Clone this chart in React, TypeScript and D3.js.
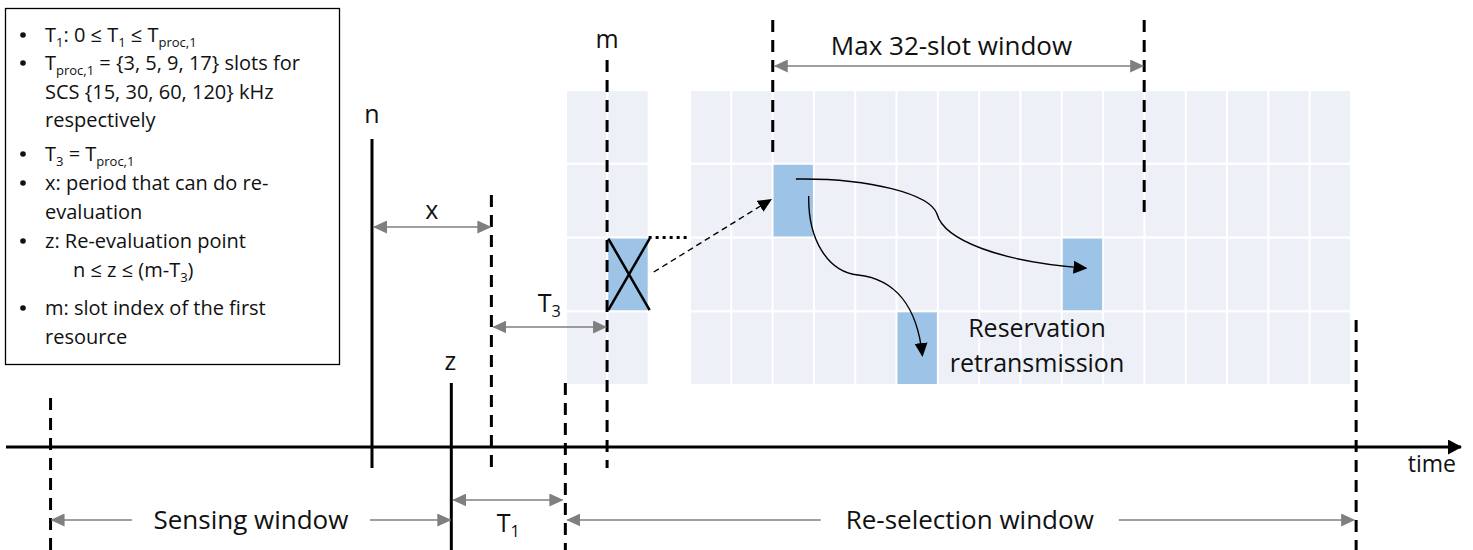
import * as d3 from 'd3';

// time positions in slot units (slot 0 = first slot of the resource grid)
const markerNames = ['sensingStart', 'n', 'z', 'zT3', 'reselStart', 'm', 'maxStart', 'maxEnd', 'reselEnd'];
const markerSlots = [-12.5, -4.72, -2.8, -1.83, -0.04, 0.97, 4.98, 13.97, 19.1];

// resource grid
const gridColumns = [0, 1, 3, 4, 5, 6, 7, 8, 9, 10, 11, 12, 13, 14, 15, 16, 17, 18];
const gridRows = [0, 1, 2, 3];
const usedCols = [1, 5, 8, 12];
const usedRows = [2, 1, 3, 2];
const usedCrossed = [true, false, false, false];

type Seg = { t: string; sub?: boolean };
const legendLines: Seg[][] = [
  [{ t: 'T' }, { t: '1', sub: true }, { t: ': 0 ≤ T' }, { t: '1', sub: true }, { t: ' ≤ T' }, { t: 'proc,1', sub: true }],
  [{ t: 'T' }, { t: 'proc,1', sub: true }, { t: ' = {3, 5, 9, 17} slots for' }],
  [{ t: 'SCS {15, 30, 60, 120} kHz' }],
  [{ t: 'respectively' }],
  [{ t: 'T' }, { t: '3', sub: true }, { t: ' = T' }, { t: 'proc,1', sub: true }],
  [{ t: 'x: period that can do re-' }],
  [{ t: 'evaluation' }],
  [{ t: 'z: Re-evaluation point' }],
  [{ t: 'n ≤ z ≤ (m-T' }, { t: '3', sub: true }, { t: ')' }],
  [{ t: 'm: slot index of the first' }],
  [{ t: 'resource' }],
];
const legendBullets = [true, true, false, false, true, true, false, true, false, true, false];
const legendIndent = [0, 0, 0, 0, 0, 0, 0, 0, 28, 0, 0];
const legendBaselines = [42, 70, 99, 127, 161, 190, 219, 248, 277, 315, 344];

// vertical extent + style of each marker line
const markerLayout: Record<string, [number, number, 'solid' | 'dash']> = {
  sensingStart: [398, 550, 'dash'],
  n: [139, 468, 'solid'],
  z: [383, 550, 'solid'],
  zT3: [195, 468, 'dash'],
  reselStart: [383, 550, 'dash'],
  m: [60, 468, 'dash'],
  maxStart: [20, 160, 'dash'],
  maxEnd: [20, 220, 'dash'],
  reselEnd: [320, 550, 'dash'],
};

const FONT = "'Open Sans', 'Noto Sans', sans-serif";
const GRAY = '#7f7f7f';
const CELL = '#edf0f7';
const FILL = '#9dc3e6';

function Sub({ segs }: { segs: Seg[] }) {
  let inSub = false;
  return (
    <>
      {segs.map((s, i) => {
        const sub = !!s.sub;
        const dy = sub && !inSub ? 5 : !sub && inSub ? -5 : 0;
        inSub = sub;
        return (
          <tspan key={i} dy={dy} fontSize={sub ? '0.65em' : undefined}>
            {s.t}
          </tspan>
        );
      })}
    </>
  );
}

export default function App() {
  const x = d3.scaleLinear().domain([0, 19]).range([567, 1352]);
  const y = d3.scaleBand<number>().domain(gridRows).range([91, 384]).paddingInner(0.03);
  const mx = (name: string) => x(markerSlots[markerNames.indexOf(name)]);
  const slotW = x(1) - x(0);
  const axisY = 447;

  const span = (a: number, b: number, yy: number, heads: 'both' | 'start' | 'end') => (
    <line
      x1={a}
      x2={b}
      y1={yy}
      y2={yy}
      stroke={GRAY}
      strokeWidth={1.6}
      markerStart={heads !== 'end' ? 'url(#gl)' : undefined}
      markerEnd={heads !== 'start' ? 'url(#gr)' : undefined}
    />
  );

  const sensMid = (mx('sensingStart') + mx('z')) / 2;
  const reselMid = (mx('reselStart') + mx('reselEnd')) / 2 + 9;

  return (
    <svg width={1473} height={550} style={{ position: 'absolute', left: 0, top: 0 }} fontFamily={FONT}>
      <defs>
        <marker id="gr" viewBox="0 0 14 13" refX={13} refY={6.5} markerWidth={14} markerHeight={13} markerUnits="userSpaceOnUse" orient="auto">
          <path d="M0,0 L14,6.5 L0,13 Z" fill={GRAY} />
        </marker>
        <marker id="gl" viewBox="0 0 14 13" refX={1} refY={6.5} markerWidth={14} markerHeight={13} markerUnits="userSpaceOnUse" orient="auto">
          <path d="M14,0 L0,6.5 L14,13 Z" fill={GRAY} />
        </marker>
        <marker id="bk" viewBox="0 0 14 13" refX={12} refY={6.5} markerWidth={14} markerHeight={13} markerUnits="userSpaceOnUse" orient="auto">
          <path d="M0,0 L14,6.5 L0,13 Z" fill="#000" />
        </marker>
        <marker id="ax" viewBox="0 0 14 15" refX={13} refY={7.5} markerWidth={14} markerHeight={15} markerUnits="userSpaceOnUse" orient="auto">
          <path d="M0,0 L14,7.5 L0,15 Z" fill="#000" />
        </marker>
      </defs>

      {/* legend box */}
      <rect x={5.5} y={8.5} width={334} height={356} fill="#fff" stroke="#000" strokeWidth={1.3} />
      <g fontSize={20} fill="#111">
        {legendLines.map((segs, i) => (
          <g key={i}>
            {legendBullets[i] && <circle cx={23} cy={legendBaselines[i] - 7} r={2.8} fill="#111" />}
            <text x={45 + legendIndent[i]} y={legendBaselines[i]}>
              <Sub segs={segs} />
            </text>
          </g>
        ))}
      </g>

      {/* resource grid */}
      <g>
        {gridRows.map((r) =>
          gridColumns.map((c) => (
            <rect key={`${r}-${c}`} x={x(c)} y={y(r)} width={slotW - 2} height={y.bandwidth()} fill={CELL} />
          )),
        )}
        {usedCols.map((c, i) => (
          <rect key={i} x={x(c)} y={y(usedRows[i])} width={slotW - 2} height={y.bandwidth()} fill={FILL} />
        ))}
        {usedCols.map((c, i) =>
          usedCrossed[i] ? (
            <g key={i} stroke="#000" strokeWidth={2.5}>
              <line x1={x(c)} y1={y(usedRows[i])!} x2={x(c + 1)} y2={y(usedRows[i])! + y.bandwidth()} />
              <line x1={x(c + 1)} y1={y(usedRows[i])!} x2={x(c)} y2={y(usedRows[i])! + y.bandwidth()} />
            </g>
          ) : null,
        )}
      </g>

      {/* dotted continuation and dashed move arrow */}
      <line x1={x(2) - 1} x2={x(2.9)} y1={y(2)! - 1} y2={y(2)! - 1} stroke="#000" strokeWidth={3} strokeDasharray="3 4" />
      <line x1={x(2.1)} y1={272} x2={x(4.92)} y2={200} stroke="#000" strokeWidth={1.4} strokeDasharray="6 4" markerEnd="url(#bk)" />

      {/* reservation curves */}
      <path
        d={`M${x(5.54)},179 C870,178 930,194 937,214 C944,240 1000,262 ${x(12.55)},268`}
        fill="none"
        stroke="#000"
        strokeWidth={1.4}
        markerEnd="url(#bk)"
      />
      <path
        d={`M${x(5.85)},196 C808,240 828,272 858,275 C894,279 917,305 ${x(8.6)},355`}
        fill="none"
        stroke="#000"
        strokeWidth={1.4}
        markerEnd="url(#bk)"
      />
      <text x={1037} y={337} fontSize={25} textAnchor="middle" fill="#111">
        Reservation
      </text>
      <text x={1037} y={372} fontSize={25} textAnchor="middle" fill="#111">
        retransmission
      </text>

      {/* time axis */}
      <line x1={6} x2={1461} y1={axisY} y2={axisY} stroke="#000" strokeWidth={3} markerEnd="url(#ax)" />
      <text x={1456} y={472} fontSize={23} textAnchor="end" fill="#111">
        time
      </text>

      {/* marker lines */}
      {markerNames.map((name) => {
        const [y0, y1, kind] = markerLayout[name];
        return (
          <line
            key={name}
            x1={mx(name)}
            x2={mx(name)}
            y1={y0}
            y2={y1}
            stroke="#000"
            strokeWidth={3}
            strokeDasharray={kind === 'dash' ? '12 8' : undefined}
          />
        );
      })}

      {/* marker labels */}
      <g fontSize={25} textAnchor="middle" fill="#111">
        <text x={mx('n')} y={123}>n</text>
        <text x={mx('z') - 1} y={370}>z</text>
        <text x={mx('m')} y={48}>m</text>
        <text x={(mx('n') + mx('zT3')) / 2} y={219}>x</text>
        <text x={(mx('zT3') + mx('m')) / 2} y={312}>
          <Sub segs={[{ t: 'T' }, { t: '3', sub: true }]} />
        </text>
        <text x={(mx('z') + mx('reselStart')) / 2} y={532}>
          <Sub segs={[{ t: 'T' }, { t: '1', sub: true }]} />
        </text>
        <text x={(mx('maxStart') + mx('maxEnd')) / 2 - 7} y={55} fontSize={26}>
          Max 32-slot window
        </text>
        <text x={sensMid} y={529} fontSize={26}>
          Sensing window
        </text>
        <text x={reselMid} y={529} fontSize={26}>
          Re-selection window
        </text>
      </g>

      {/* span arrows */}
      {span(mx('n') + 2, mx('zT3') - 1, 227, 'both')}
      {span(mx('zT3') + 2, mx('m') - 1, 327, 'both')}
      {span(mx('z') + 2, mx('reselStart') - 3, 500, 'both')}
      {span(mx('maxStart') + 2, mx('maxEnd') - 1, 66, 'both')}
      {span(mx('sensingStart') + 1, sensMid - 119, 520, 'start')}
      {span(sensMid + 119, mx('z') - 1, 520, 'end')}
      {span(mx('reselStart') + 2, reselMid - 149, 520, 'start')}
      {span(reselMid + 149, mx('reselEnd') - 2, 520, 'end')}
    </svg>
  );
}
